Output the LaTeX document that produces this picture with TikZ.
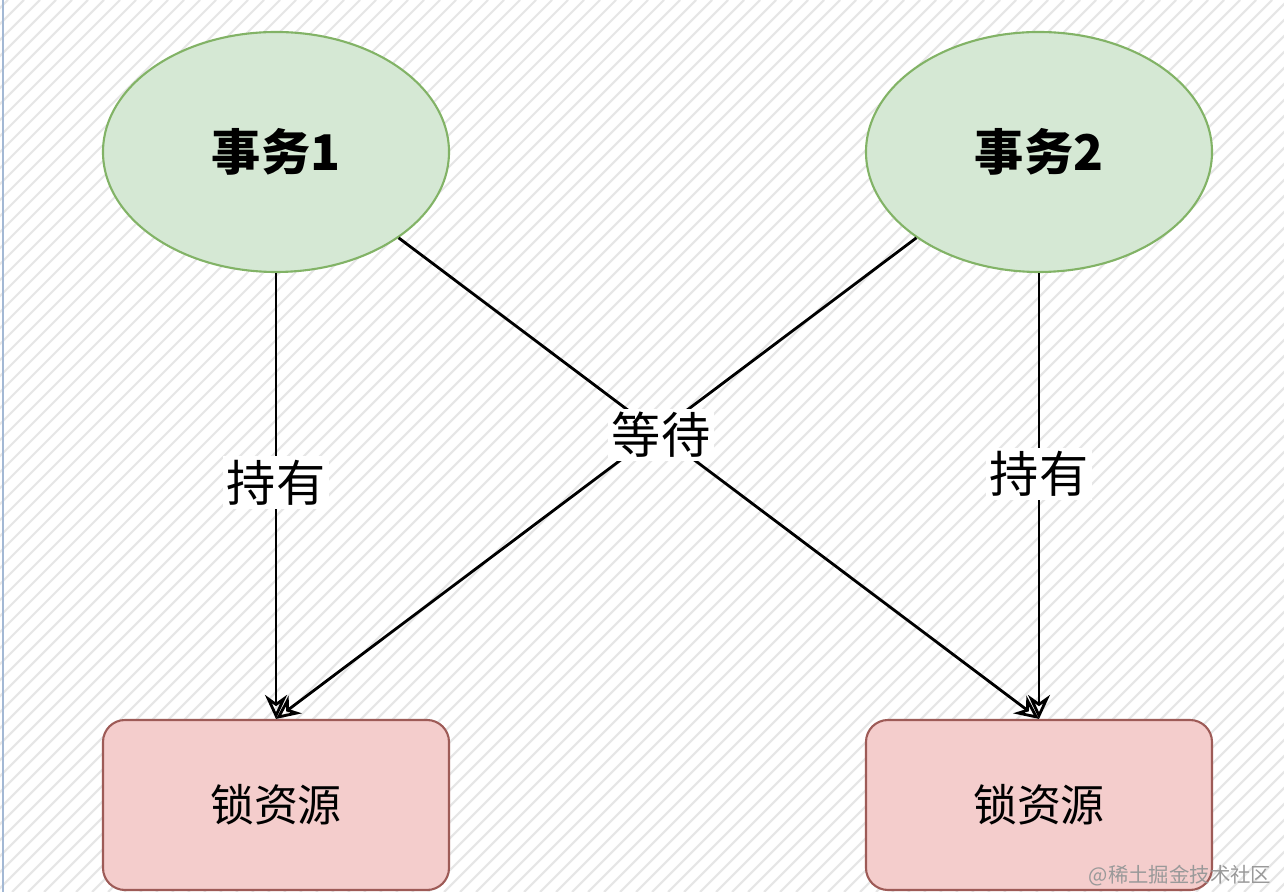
\documentclass[tikz,border=0pt]{standalone}
\usepackage{fontspec}
\newfontfamily\cjk{Noto Sans CJK SC}
\usetikzlibrary{arrows.meta,shapes.geometric}

\definecolor{txfill}{HTML}{D5E8D4}
\definecolor{txdraw}{HTML}{82B366}
\definecolor{lkfill}{HTML}{F4CDCC}
\definecolor{lkdraw}{HTML}{9E5B57}
\definecolor{hatch}{HTML}{E6E6E6}
\definecolor{edge}{HTML}{A3B8D4}

\begin{document}
\begin{tikzpicture}[
    txn/.style={ellipse,draw=txdraw,fill=txfill,line width=0.6pt,
      minimum width=3.46cm,minimum height=2.4cm,
      font=\cjk\bfseries\fontsize{14}{16}\selectfont},
    lockbox/.style={rectangle,rounded corners=0.22cm,draw=lkdraw,fill=lkfill,
      line width=0.6pt,minimum width=3.46cm,minimum height=1.7cm,
      font=\cjk\fontsize{12.5}{14}\selectfont},
    link/.style={-{Stealth[open,length=0.24cm,width=0.22cm]},line width=0.8pt},
    tag/.style={fill=white,inner sep=1pt,font=\cjk\fontsize{14}{16}\selectfont}]
  \useasboundingbox (0,0) rectangle (12.84,8.92);

  % hatched background
  \begin{scope}
    \clip (0,0) rectangle (12.84,8.92);
    \fill[white] (0,0) rectangle (12.84,8.92);
    \foreach \c in {-9.00,-8.84,...,12.90}
      \draw[hatch,line width=0.6pt] (\c,0) -- ++(8.92,8.92);
  \end{scope}
  \draw[edge,line width=0.8pt] (0.03,0) -- (0.03,8.92);

  \node[txn] (t1) at (2.76,7.40) {事务1};
  \node[txn] (t2) at (10.39,7.40) {事务2};
  \node[lockbox] (r1) at (2.76,0.87) {锁资源};
  \node[lockbox] (r2) at (10.39,0.87) {锁资源};

  \draw[link] (t1.south) -- (r1.north) node[tag,pos=0.47] (hold1) {持有};
  \draw[link] (t2.south) -- (r2.north) node[tag,pos=0.45] (hold2) {持有};
  \draw[link] (t1.-35) -- (r2.north);
  \draw[link] (t2.-145) -- (r1.north);
  \path (t1.-35) -- (r2.north) node[tag,pos=0.41] (wait) {等待};

  \node[text=black!40,font=\cjk\fontsize{5.8}{7}\selectfont,inner sep=0pt,anchor=east]
    (mark) at (12.72,0.16) {@稀土掘金技术社区};
\end{tikzpicture}
\end{document}
